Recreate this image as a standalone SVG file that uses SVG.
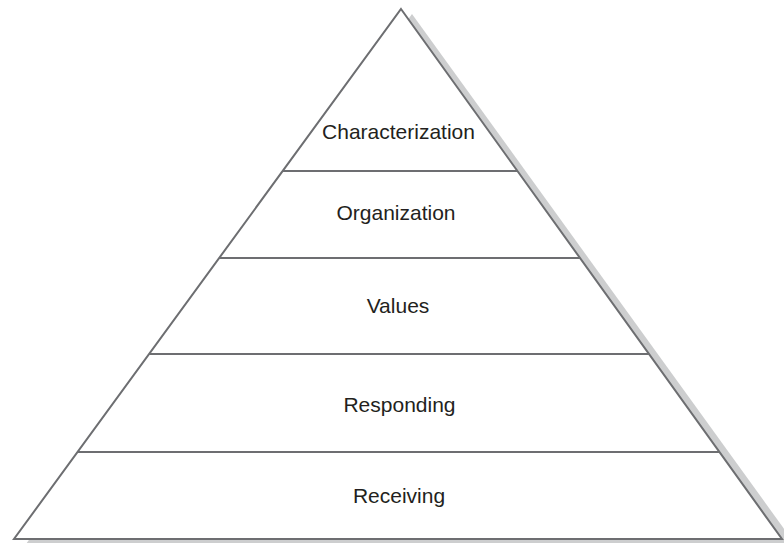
<svg xmlns="http://www.w3.org/2000/svg" width="784" height="543" viewBox="0 0 784 543">
<style>
.edge{fill:#ffffff;stroke:#6d6e71;stroke-width:2;stroke-linejoin:miter}
.shadow{fill:#cdcecf}
.div{stroke:#6d6e71;stroke-width:2}
.lbl{font-family:"Liberation Sans",Arial,sans-serif;font-size:21px;fill:#231f20;text-anchor:middle}
</style>
<rect width="784" height="543" fill="#ffffff"/>
<g id="pyramid">
<polygon class="shadow" points="412,14 795,544 26,544"/>
<polygon class="edge" points="401,9 782,539 14,539"/>
</g>
<g id="connectors">
<line class="div" x1="282.7" y1="171" x2="517.5" y2="171"/>
<line class="div" x1="219.2" y1="258" x2="580" y2="258"/>
<line class="div" x1="149.2" y1="354" x2="649.1" y2="354"/>
<line class="div" x1="77.6" y1="452" x2="719.5" y2="452"/>
</g>
<g id="characterization"><text class="lbl" x="398.5" y="139">Characterization</text></g>
<g id="organization"><text class="lbl" x="396" y="220">Organization</text></g>
<g id="values"><text class="lbl" x="398" y="313">Values</text></g>
<g id="responding"><text class="lbl" x="399.5" y="412">Responding</text></g>
<g id="receiving"><text class="lbl" x="399" y="503">Receiving</text></g>
</svg>
